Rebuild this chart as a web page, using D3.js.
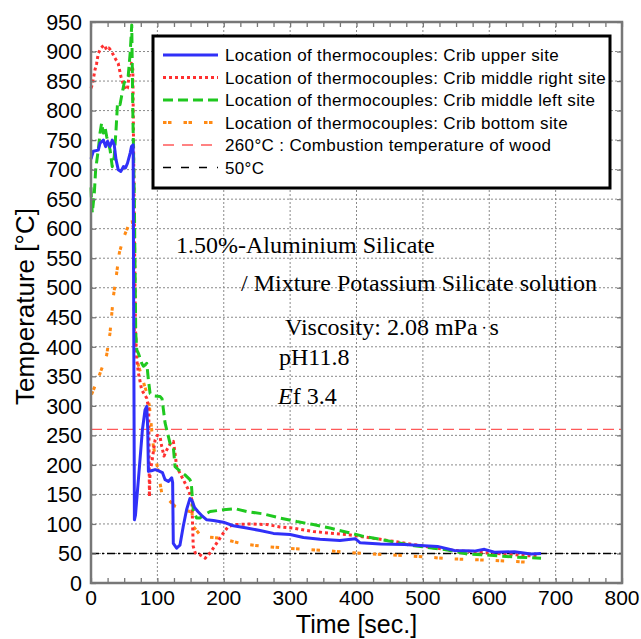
<!DOCTYPE html>
<html>
<head>
<meta charset="utf-8">
<script src="https://cdn.jsdelivr.net/npm/d3@7"></script>
<style>
body { margin: 0; background: #fff; }
</style>
</head>
<body>
<div id="chart"></div>
<script>

// readings: [time (sec.), temperature (°C)]
var upperSite = [[0,718],[1,722],[3.5,731],[11,733],[13.6,745],[18.6,750],[22,739],[25,748],[28.7,739],[32,750],[35,742],[37.7,717],[41,700],[45,697],[48.8,705],[52,703],[55,711],[59,728],[61,739],[63.5,742],[64.5,400],[65.4,107],[67,115],[71.4,175],[77.4,259],[81.4,293],[84,299],[85.5,260],[86.5,189],[91,190],[96.5,192],[102,190],[107.6,187],[111.6,175],[116.6,172],[121.6,178],[123,170],[124,67],[129,59],[134,64],[139,96],[144,124],[149,143],[152,140],[156,128],[161,121],[166,115],[174.4,107],[184.4,106],[199.4,103],[214.5,97],[234.6,93],[254.7,89],[274.8,84],[300,82],[320,77],[345,74],[375,72],[398,75],[405.6,68],[436,66],[472,65],[502,63],[522,62],[547.5,55],[577.6,54],[592.7,57],[607.8,52],[638,53],[663,49],[678,50]];

var middleRightSite = [[0,838],[2,844],[6,869],[8.5,880],[11,897],[15,906],[20,911],[23.6,903],[27,906],[31,900],[36,889],[41,880],[45,858],[48.8,844],[52,835],[55,838],[57,855],[61,880],[63,870],[65,640],[67,430],[69,377],[71.4,356],[76.4,327],[84,313],[87,295],[88,146],[89,190],[91.5,203],[96.5,242],[100,250],[104,248],[106.6,231],[110,215],[114,225],[119,235],[124,240],[126,225],[129,197],[139,175],[146.7,158],[152,141],[154,62],[157,51],[164,48],[172,42],[179.5,51],[189.6,68],[199.6,85],[207,96],[219.7,99],[240,100],[265,99],[285,95],[305,93],[335,87],[386,82],[436,74],[487,65],[537,56],[587,52],[638,48],[673,45]];

var middleLeftSite = [[0,670],[1,640],[2,627],[5,660],[7,700],[11,734],[13.6,762],[16,779],[18.6,762],[21,773],[23.6,756],[26,745],[28.7,734],[32,705],[35,722],[37.7,767],[40,813],[43.7,810],[46,824],[50,847],[53.6,852],[56,858],[59,897],[61.4,945],[63,800],[65.3,649],[67.4,423],[69,395],[71.4,389],[76.4,372],[79,367],[81.4,369],[84,372],[86.5,344],[89,321],[94,317],[104,316],[107,312],[111.6,271],[119,237],[124,231],[126.6,197],[131.6,192],[141.6,183],[149,175],[151,170],[154,124],[159,110],[164,110],[171.5,116],[179.5,121],[199.4,124],[216.7,126],[234.6,121],[259.7,117],[285,110],[310,104],[335,99],[360,93],[385.5,86],[410.6,79],[436,74],[472,66],[487,63],[537,56],[567,49],[588,48],[613,46],[638,44],[678,42]];

var bottomSite = [[0,320],[1.5,321],[12,350],[23.6,386],[28.6,423],[33.7,485],[38.7,525],[42.7,559],[48.8,584],[53.8,598],[58.8,612],[61.3,618],[64,600],[65,450],[66,390],[75,355],[84,322],[88,300],[91.5,259],[94,231],[99,203],[106.6,152],[114,144],[126.6,130],[139,124],[149,121],[152,121],[154,96],[164,82],[174,78],[194,76],[229,66],[260,62],[295,59],[322,57],[352,55],[386,52],[416,49.5],[446,48],[476.5,46],[507,44],[537,41],[567,40],[598,38.6],[628,37],[660,35]];

var combustionTemp = 260;
var refTemp = 50;

var xTicks = d3.range(0, 801, 100);
var yTicks = d3.range(0, 951, 50);

var legendLabels = [
	"Location of thermocouples: Crib upper site",
	"Location of thermocouples: Crib middle right site",
	"Location of thermocouples: Crib middle left site",
	"Location of thermocouples: Crib bottom site",
	"260\u00B0C : Combustion temperature of wood",
	"50\u00B0C"
];

var notes = [
	"1.50%-Aluminium Silicate",
	"/ Mixture Potassium Silicate solution",
	"Viscosity: 2.08 mPa\u30FBs",
	"pH11.8",
	"Ef 3.4"
];

var width = 641, height = 639;
var margin = { top: 22, right: 19, bottom: 56, left: 91 };
var w = width - margin.left - margin.right;
var h = height - margin.top - margin.bottom;

var svg = d3.select("#chart").append("svg")
		.attr("width", width).attr("height", height)
		.style("font-family", "'Liberation Sans', Arial, sans-serif");

var g = svg.append("g")
		.attr("transform", "translate(" + margin.left + "," + margin.top + ")");

var x = d3.scaleLinear().domain([0, 800]).range([0, w]);
var y = d3.scaleLinear().domain([0, 950]).range([h, 0]);

// grid
g.selectAll(".vgrid").data(xTicks.slice(1, -1)).enter().append("line")
		.attr("x1", x).attr("x2", x).attr("y1", 0).attr("y2", h)
		.attr("stroke", "#8a8a8a").attr("stroke-width", 1)
		.attr("stroke-dasharray", "2,2");
g.selectAll(".hgrid").data(yTicks.slice(1, -1)).enter().append("line")
		.attr("y1", y).attr("y2", y).attr("x1", 0).attr("x2", w)
		.attr("stroke", "#8a8a8a").attr("stroke-width", 1)
		.attr("stroke-dasharray", "2,2");

// reference lines
g.append("line").attr("x1", 0).attr("x2", w)
		.attr("y1", y(combustionTemp)).attr("y2", y(combustionTemp))
		.attr("stroke", "#ff5a5a").attr("stroke-width", 1.3)
		.attr("stroke-dasharray", "11,5");
g.append("line").attr("x1", 0).attr("x2", w)
		.attr("y1", y(refTemp)).attr("y2", y(refTemp))
		.attr("stroke", "#000").attr("stroke-width", 1.5)
		.attr("stroke-dasharray", "8,3,2,3");

var styles = [
	{ data: bottomSite, color: "#ff8a14", dash: "3.5,1.5,3.5,12", width: 3 },
	{ data: middleRightSite, color: "#ff3030", dash: "3,3", width: 3 },
	{ data: middleLeftSite, color: "#1fc81f", dash: "10,5", width: 3 },
	{ data: upperSite, color: "#3030f8", dash: null, width: 3 }
];

var line = d3.line().x(function(d) { return x(d[0]); })
		.y(function(d) { return y(d[1]); });

styles.forEach(function(s) {
	g.append("path").datum(s.data).attr("d", line)
			.attr("fill", "none").attr("stroke", s.color)
			.attr("stroke-width", s.width)
			.attr("stroke-linejoin", "round")
			.attr("stroke-dasharray", s.dash);
});

// frame and ticks
var frameColor = "#777";
g.append("rect").attr("width", w).attr("height", h)
		.attr("fill", "none").attr("stroke", frameColor).attr("stroke-width", 2.5);

function tickStyle(sel) {
	sel.select(".domain").remove();
	sel.selectAll(".tick line").attr("stroke", frameColor).attr("stroke-width", 1.3);
}

g.append("g").attr("transform", "translate(0," + h + ")")
		.call(d3.axisBottom(x).tickValues(d3.range(0, 801, 25)).tickSize(-5).tickFormat(""))
		.call(tickStyle);
g.append("g")
		.call(d3.axisTop(x).tickValues(d3.range(0, 801, 25)).tickSize(-5).tickFormat(""))
		.call(tickStyle);
g.append("g")
		.call(d3.axisLeft(y).tickValues(yTicks).tickSize(-5).tickFormat(""))
		.call(tickStyle);
g.append("g").attr("transform", "translate(" + w + ",0)")
		.call(d3.axisRight(y).tickValues(yTicks).tickSize(-5).tickFormat(""))
		.call(tickStyle);

// tick labels
g.selectAll(".xlab").data(xTicks).enter().append("text")
		.attr("x", x).attr("y", h + 22)
		.attr("text-anchor", "middle").attr("font-size", 21)
		.text(function(d) { return d; });
g.selectAll(".ylab").data(yTicks).enter().append("text")
		.attr("x", -9).attr("y", y).attr("dy", "0.36em")
		.attr("text-anchor", "end").attr("font-size", 21.5)
		.text(function(d) { return d; });

// axis titles
svg.append("text").attr("x", margin.left + w / 2).attr("y", 633)
		.attr("text-anchor", "middle").attr("font-size", 25)
		.text("Time [sec.]");
svg.append("text")
		.attr("transform", "translate(34," + (margin.top + h / 2 + 4) + ") rotate(-90)")
		.attr("text-anchor", "middle").attr("font-size", 26)
		.text("Temperature [\u00B0C]");

// legend
var lg = svg.append("g").attr("transform", "translate(153,36)");
lg.append("rect").attr("width", 457).attr("height", 152)
		.attr("fill", "#fff").attr("stroke", "#000").attr("stroke-width", 3);

var legendStyles = [
	{ color: "#3030f8", dash: null, width: 3 },
	{ color: "#ff3030", dash: "3,3", width: 3 },
	{ color: "#1fc81f", dash: "10,5", width: 3 },
	{ color: "#ff8a14", dash: "3.5,1.5,3.5,12", width: 3 },
	{ color: "#ff5a5a", dash: "11,8", width: 1.3 },
	{ color: "#000", dash: "8,10", width: 1.3 }
];

var items = lg.selectAll(".item").data(legendLabels).enter().append("g")
		.attr("transform", function(d, i) { return "translate(0," + (19 + i * 22.5) + ")"; });
items.append("line").attr("x1", 10).attr("x2", 65).attr("y1", 0).attr("y2", 0)
		.attr("stroke", function(d, i) { return legendStyles[i].color; })
		.attr("stroke-width", function(d, i) { return legendStyles[i].width; })
		.attr("stroke-dasharray", function(d, i) { return legendStyles[i].dash; });
items.append("text").attr("x", 72).attr("y", 0).attr("dy", "0.36em")
		.attr("font-size", 17).attr("letter-spacing", 0.35)
		.text(function(d) { return d; });

// annotation
var noteX = [176, 241, 285, 279, 278];
var noteY = [253, 291, 335, 365, 404];
var nt = svg.append("g").style("font-family", "'Liberation Serif', 'Times New Roman', serif")
		.attr("font-size", 24);
notes.forEach(function(s, i) {
	var t = nt.append("text").attr("x", noteX[i]).attr("y", noteY[i]);
	var dot = s.indexOf("\u30FB");
	if (s.indexOf("Ef") === 0) {
		t.append("tspan").attr("font-style", "italic").text("E");
		t.append("tspan").text(s.slice(1));
	} else if (dot > 0) {
		t.append("tspan").text(s.slice(0, dot));
		t.append("tspan").attr("font-size", 12).attr("dy", -3).text(s.charAt(dot));
		t.append("tspan").attr("dy", 3).text(s.slice(dot + 1));
	} else {
		t.text(s);
	}
});

</script>
</body>
</html>
